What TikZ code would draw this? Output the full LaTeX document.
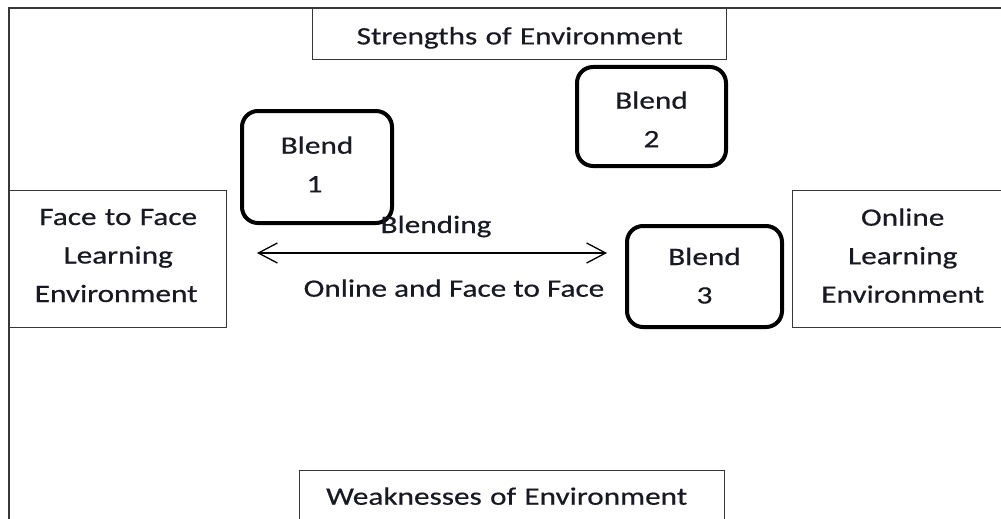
\documentclass[tikz,border=0pt]{standalone}
\usepackage{fontspec}
\setmainfont{Carlito}[FakeStretch=1.25,FakeBold=0.5]
\usetikzlibrary{arrows.meta}
\definecolor{ink}{RGB}{25,25,35}
\definecolor{framec}{RGB}{55,55,55}
\tikzset{
  txt/.style={font=\fontsize{25}{38.5}\selectfont, text=ink},
  plainbox/.style={draw=framec, line width=1.4pt, txt, anchor=north west, inner sep=0pt, align=center},
  blendbox/.style={draw=black, line width=4pt, rounded corners=16pt, txt, anchor=north west, inner sep=0pt, align=center},
  lbl/.style={txt, anchor=base, inner sep=0pt},
  barb/.style={line width=1.3pt, {Straight Barb[length=19pt,width=20pt]}-{Straight Barb[length=19pt,width=20pt]}}
}
\begin{document}
\begin{tikzpicture}[x=1pt,y=-1pt]
\useasboundingbox (0,0) rectangle (1001,519);
\fill[white] (0,0) rectangle (1001,519);
\clip (0,0) rectangle (1001,519);
\draw[framec, line width=1.5pt] (9,8) rectangle (1030,560);
\node[plainbox, text width=414pt, text height=35.7pt, text depth=15.3pt] (str) at (312,8) {Strengths of Environment};
\node[plainbox, text width=425pt, text height=34pt, text depth=41pt] (weak) at (299,470) {Weaknesses of Environment\hspace*{11pt}};
\node[plainbox, text width=217pt, text height=34.3pt, text depth=102.7pt] (f2f) at (9,190) {Face to Face\hspace*{4pt}\\Learning\hspace*{4pt}\\Environment\hspace*{4pt}};
\node[plainbox, text width=220pt, text height=35pt, text depth=102pt] (onl) at (792,190) {Online\\Learning\\Environment};
\node[blendbox, text width=150pt, text height=42.7pt, text depth=69.3pt] (b1) at (240,109) {Blend\hspace*{5pt}\\1\hspace*{5pt}};
\node[blendbox, text width=149pt, text height=41.7pt, text depth=57.3pt] (b2) at (575,65) {Blend\\2};
\node[blendbox, text width=155pt, text height=39pt, text depth=62pt] (b3) at (625,224) {Blend\\3};
\coordinate (al) at (257,253);
\coordinate (ar) at (607,253);
\draw[barb] (al) -- (ar);
\node[lbl] (blending) at (436,233) {Blending};
\node[lbl] (oaf) at (454,296.7) {Online and Face to Face};
\end{tikzpicture}
\end{document}
